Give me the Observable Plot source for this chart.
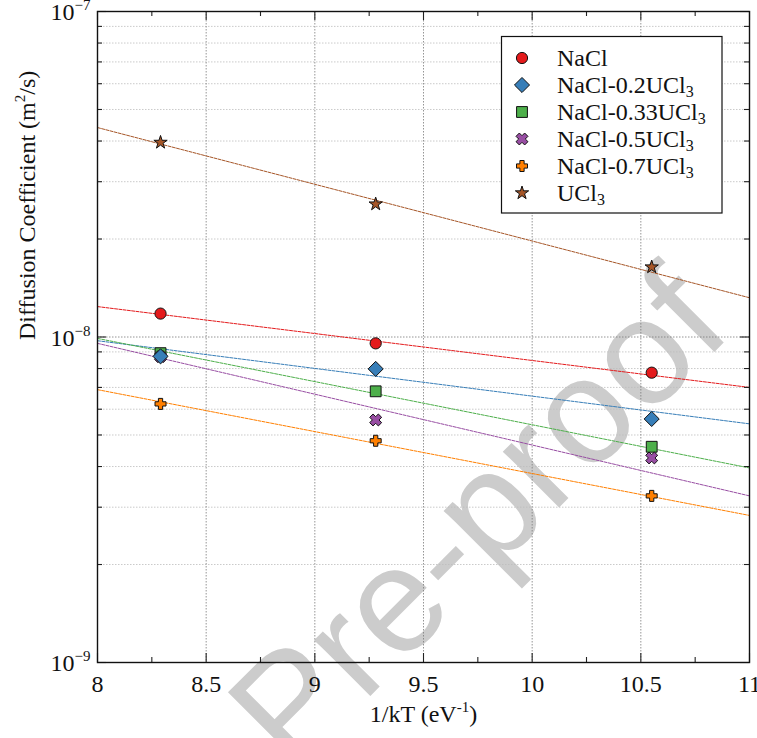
<!DOCTYPE html>
<html><head><meta charset="utf-8">
<script src="https://cdn.jsdelivr.net/npm/d3@7"></script>
<script src="https://cdn.jsdelivr.net/npm/@observablehq/plot@0.6"></script>
<style>
body{margin:0;background:#fff;}
#chart{width:757px;height:738px;}
</style>
</head><body><div id="chart"></div>
<script>
// ---- data ----
const seriesNames = ["NaCl", "NaCl-0.2UCl3", "NaCl-0.33UCl3", "NaCl-0.5UCl3", "NaCl-0.7UCl3", "UCl3"];
const seriesColors = ["#e41a1c", "#377eb8", "#4daf4a", "#984ea3", "#ff7f00", "#a65628"];
const invKT = [8.29, 9.28, 10.55];
const dNaCl    = [1.18e-8, 9.56e-9, 7.77e-9];
const dNaCl02  = [8.72e-9, 7.98e-9, 5.60e-9];
const dNaCl033 = [8.92e-9, 6.81e-9, 4.60e-9];
const dNaCl05  = [8.70e-9, 5.56e-9, 4.25e-9];
const dNaCl07  = [6.23e-9, 4.80e-9, 3.25e-9];
const dUCl3    = [3.96e-8, 2.56e-8, 1.64e-8];
const fitX = [8, 11];
const fitNaCl    = [1.24e-8, 7.00e-9];
const fitNaCl02  = [9.74e-9, 5.41e-9];
const fitNaCl033 = [9.90e-9, 3.96e-9];
const fitNaCl05  = [9.56e-9, 3.25e-9];
const fitNaCl07  = [6.89e-9, 2.83e-9];
const fitUCl3    = [4.40e-8, 1.32e-8];
const xMajor = [8, 8.5, 9, 9.5, 10, 10.5, 11];
const xMinor = [8.25, 8.75, 9.25, 9.75, 10.25, 10.75];
const yMajor = [1e-9, 1e-8, 1e-7];
const yMinor = [2e-9,3e-9,4e-9,5e-9,6e-9,7e-9,8e-9,9e-9,2e-8,3e-8,4e-8,5e-8,6e-8,7e-8,8e-8,9e-8];
const xTickLabels = ["8", "8.5", "9", "9.5", "10", "10.5", "11"];
const yTickExp = ["−9", "−8", "−7"];

const pointsBySeries = [dNaCl, dNaCl02, dNaCl033, dNaCl05, dNaCl07, dUCl3];
const fitsBySeries = [fitNaCl, fitNaCl02, fitNaCl033, fitNaCl05, fitNaCl07, fitUCl3];

// ---- symbols (r = sqrt(size/PI)) ----
function poly(ctx, pts){ ctx.moveTo(pts[0][0], pts[0][1]); for (let i=1;i<pts.length;i++) ctx.lineTo(pts[i][0], pts[i][1]); ctx.closePath(); }
function plusPts(a, w){ return [[-w,-a],[w,-a],[w,-w],[a,-w],[a,w],[w,w],[w,a],[-w,a],[-w,w],[-a,w],[-a,-w],[-w,-w]]; }
const symCircle = {draw(ctx, s){ const r=Math.sqrt(s/Math.PI); ctx.moveTo(r,0); ctx.arc(0,0,r,0,2*Math.PI); }};
const symDiamond = {draw(ctx, s){ const r=Math.sqrt(s/Math.PI)*1.3; poly(ctx, [[0,-r],[r,0],[0,r],[-r,0]]); }};
const symSquare = {draw(ctx, s){ const r=Math.sqrt(s/Math.PI)*0.95; poly(ctx, [[-r,-r],[r,-r],[r,r],[-r,r]]); }};
const symPlus = {draw(ctx, s){ const r=Math.sqrt(s/Math.PI); poly(ctx, plusPts(r, r/2.6)); }};
const symX = {draw(ctx, s){ const r=Math.sqrt(s/Math.PI); const c=Math.SQRT1_2; poly(ctx, plusPts(r, r/2.6).map(([x,y])=>[c*(x-y), c*(x+y)])); }};
const symStar = {draw(ctx, s){ const R=Math.sqrt(s/Math.PI); const ri=R*0.381966; const pts=[]; for(let i=0;i<10;i++){ const rr=i%2?ri:R; const a=-Math.PI/2+i*Math.PI/5; pts.push([rr*Math.cos(a), rr*Math.sin(a)]); } poly(ctx, pts); }};
const seriesSymbols = [symCircle, symDiamond, symSquare, symX, symPlus, symStar];
const seriesR = [5.6, 5.8, 5.7, 6.1, 5.5, 7];
const drawOrder = [0, 2, 3, 1, 4, 5];

// ---- tables ----
const fitData = seriesNames.flatMap((name, i) => fitX.map((x, j) => ({series: name, x, y: fitsBySeries[i][j]})));
const pointData = seriesNames.map((name, i) => invKT.map((x, j) => ({series: name, x, y: pointsBySeries[i][j]})));

const innerW = 757 - 97 - 8, innerH = 738 - 11 - 76;
const tickCol = "#222";
const fam = "Liberation Serif";

const marks = [
  Plot.text(["Pre-proof"], {frameAnchor: "middle", dx: 56, dy: 182, rotate: -45, fontSize: 150, fontFamily: "Liberation Sans", fill: "#cccccc"}),
  Plot.gridY(yMinor, {stroke: "#bdbdbd", strokeOpacity: 1, strokeWidth: 0.8, strokeDasharray: "1.5,1.5"}),
  Plot.gridY([1e-8], {stroke: "#7a7a7a", strokeOpacity: 1, strokeWidth: 0.8, strokeDasharray: "1.5,1.5"}),
  Plot.gridX(xMajor.slice(1, -1), {stroke: "#7a7a7a", strokeOpacity: 1, strokeWidth: 0.8, strokeDasharray: "1.5,1.5"}),
  Plot.line(fitData, {x: "x", y: "y", z: "series", stroke: d => seriesColors[seriesNames.indexOf(d.series)], strokeWidth: 1, strokeDasharray: "3,1.3"}),
  ...drawOrder.map(i => Plot.dot(pointData[i], {x: "x", y: "y", symbol: seriesSymbols[i], r: seriesR[i], fill: seriesColors[i], stroke: "#111", strokeWidth: 1, fillOpacity: 1})),
  // inward ticks
  Plot.tickX(xMajor, {x: d => d, insetTop: innerH - 9, stroke: tickCol, strokeWidth: 1.1}),
  Plot.tickX(xMajor, {x: d => d, insetBottom: innerH - 9, stroke: tickCol, strokeWidth: 1.1}),
  Plot.tickX(xMinor, {x: d => d, insetTop: innerH - 5, stroke: tickCol, strokeWidth: 1.1}),
  Plot.tickX(xMinor, {x: d => d, insetBottom: innerH - 5, stroke: tickCol, strokeWidth: 1.1}),
  Plot.tickY(yMajor, {y: d => d, insetRight: innerW - 9, stroke: tickCol, strokeWidth: 1.1}),
  Plot.tickY(yMajor, {y: d => d, insetLeft: innerW - 9, stroke: tickCol, strokeWidth: 1.1}),
  Plot.tickY(yMinor, {y: d => d, insetRight: innerW - 5, stroke: tickCol, strokeWidth: 1.1}),
  Plot.tickY(yMinor, {y: d => d, insetLeft: innerW - 5, stroke: tickCol, strokeWidth: 1.1}),
  Plot.frame({stroke: "#111", strokeWidth: 1.4}),
  // tick labels
  Plot.text(xMajor, {x: d => d, text: (d, i) => xTickLabels[i], frameAnchor: "bottom", lineAnchor: "top", dy: 12, fontSize: 24, fontFamily: fam, fill: "#111"}),
  Plot.text(yMajor, {y: d => d, text: (d, i) => "10^" + yTickExp[i], frameAnchor: "left", textAnchor: "end", dx: -7, dy: 1, fontSize: 24, fontFamily: fam, fill: "#111"}),
  // axis titles
  Plot.text(["1/kT (eV^-1)"], {frameAnchor: "bottom", lineAnchor: "top", dy: 42, fontSize: 24, fontFamily: fam, fill: "#111"}),
  Plot.text(["Diffusion Coefficient (m^2/s)"], {frameAnchor: "left", rotate: -90, dx: -70, dy: 3, fontSize: 24, fontFamily: fam, fill: "#111"})
];

const chart = Plot.plot({
  width: 757, height: 738,
  marginLeft: 97, marginRight: 8, marginTop: 11, marginBottom: 76,
  style: {fontFamily: fam, fontSize: "24px", background: "white", color: "#111", overflow: "visible"},
  x: {domain: [8, 11], axis: null},
  y: {type: "log", domain: [1e-9, 1e-7], axis: null},
  marks
});
document.getElementById("chart").appendChild(chart);

// ---- rich text: superscripts ----
const svg = d3.select(chart);
svg.selectAll("text").each(function(){
  const sel = d3.select(this);
  const raw = sel.text();
  const k = raw.indexOf("^");
  if (k < 0) return;
  const before = raw.slice(0, k);
  let rest = raw.slice(k + 1);
  const m = rest.match(/^([−\-]?\d+)(.*)$/);
  const sup = m ? m[1] : rest, after = m ? m[2] : "";
  sel.text(null);
  sel.append("tspan").text(before);
  sel.append("tspan").attr("font-size", 15).attr("dy", -10).text(sup);
  if (after) sel.append("tspan").attr("dy", 10).text(after);
});

// ---- legend ----
const lg = svg.append("g").attr("font-family", fam).attr("font-size", 24).attr("fill", "#111").attr("text-anchor", "start");
lg.append("rect").attr("x", 501.5).attr("y", 36.5).attr("width", 220.5).attr("height", 176.5)
  .attr("fill", "white").attr("stroke", "#111").attr("stroke-width", 1.2);
seriesNames.forEach((name, i) => {
  const cy = 58 + i * 27;
  lg.append("path").attr("transform", `translate(522,${cy})`)
    .attr("d", d3.symbol(seriesSymbols[i], Math.PI * seriesR[i] * seriesR[i])())
    .attr("fill", seriesColors[i]).attr("stroke", "#111").attr("stroke-width", 1);
  const t = lg.append("text").attr("x", 557).attr("y", cy + 8).attr("text-anchor", "start");
  if (name.endsWith("UCl3")) {
    t.append("tspan").text(name.slice(0, -1));
    t.append("tspan").attr("font-size", 16).attr("dy", 4).text("3");
  } else t.text(name);
});
</script>
</body></html>
